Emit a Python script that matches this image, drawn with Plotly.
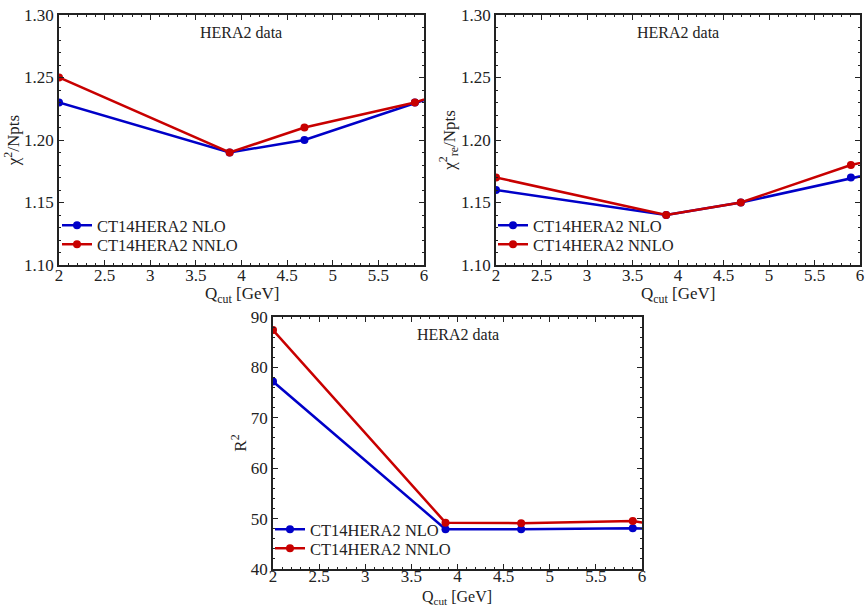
import plotly.graph_objects as go

# Q_cut values (GeV); last point lies beyond the plotted range (clipped, as in reference)
q_cut = [2.0, 3.87, 4.69, 5.9, 7.07]

chi2_nlo = [1.23, 1.19, 1.20, 1.23, 1.258]
chi2_nnlo = [1.25, 1.19, 1.21, 1.23, 1.258]

chi2re_nlo = [1.16, 1.14, 1.15, 1.17, 1.188]
chi2re_nnlo = [1.17, 1.14, 1.15, 1.18, 1.198]

r2_nlo = [77.2, 47.9, 47.9, 48.1, 47.2]
r2_nnlo = [87.4, 49.2, 49.1, 49.5, 46.3]

labels = ["CT14HERA2 NLO", "CT14HERA2 NNLO"]
colors = ["#0000C8", "#C80000"]

FONT = "Liberation Serif"
W, H = 865, 606

fig = go.Figure()

panels = [
    dict(xa="x", ya="y", xd=[59 / W, 424 / W], yd=[1 - 265 / H, 1 - 15 / H],
         data=[chi2_nlo, chi2_nnlo], yr=[1.10, 1.30], dt=0.05, mdt=0.01,
         tf=".2f", ytitle="χ<sup>2</sup>/Npts", legx=57, legy=[208, 227],
         xt=(242, 295), tso=-6, xts=17),
    dict(xa="x2", ya="y2", xd=[496 / W, 860 / W], yd=[1 - 265 / H, 1 - 15 / H],
         data=[chi2re_nlo, chi2re_nnlo], yr=[1.10, 1.30], dt=0.05, mdt=0.01,
         tf=".2f", ytitle="χ<sup>2</sup><sub>re</sub>/Npts", legx=493, legy=[208, 227],
         xt=(678, 295), tso=-6, xts=17),
    dict(xa="x3", ya="y3", xd=[273 / W, 642 / W], yd=[1 - 569 / H, 1 - 317 / H],
         data=[r2_nlo, r2_nnlo], yr=[40, 90], dt=10, mdt=2,
         tf="d", ytitle="R<sup>2</sup>", legx=270, legy=[512, 531],
         xt=(457, 597), tso=-9, xts=16),
]

leg_common = dict(bgcolor="rgba(0,0,0,0)", font=dict(family=FONT, size=16.5, color="#222"),
                  xanchor="left", yanchor="top", itemwidth=30)
legend_layout = {}
k = 0
for i, p in enumerate(panels):
    for s in range(2):
        k += 1
        lname = "legend" if k == 1 else "legend%d" % k
        legend_layout[lname] = dict(x=p["legx"] / W, y=1 - p["legy"][s] / H, **leg_common)
        fig.add_trace(go.Scatter(
            x=q_cut, y=p["data"][s], mode="lines+markers", name=labels[s],
            line=dict(color=colors[s], width=2.5),
            marker=dict(color=colors[s], size=8),
            xaxis=p["xa"], yaxis=p["ya"], legend=lname,
        ))
    sfx = "" if i == 0 else str(i + 1)
    axis_common = dict(showline=True, linecolor="#222", linewidth=1.5, mirror="allticks",
                       ticks="inside", ticklen=5, tickwidth=1.2, tickcolor="#222",
                       showgrid=False, zeroline=False, automargin=False,
                       tickfont=dict(family=FONT, size=17, color="#222"))
    fig.update_layout(**{
        "xaxis" + sfx: dict(domain=p["xd"], range=[2, 6], dtick=0.5, tick0=2,
                            ticklabelstandoff=p["tso"],
                            minor=dict(dtick=0.1, ticks="inside", ticklen=2.5, tickcolor="#222", showgrid=False),
                            anchor=p["ya"], **axis_common),
        "yaxis" + sfx: dict(domain=p["yd"], range=p["yr"], dtick=p["dt"], tick0=p["yr"][0],
                            tickformat=p["tf"],
                            minor=dict(dtick=p["mdt"], ticks="inside", ticklen=2.5, tickcolor="#222", showgrid=False),
                            title=dict(text=p["ytitle"], font=dict(family=FONT, size=17, color="#222"), standoff=0),
                            anchor=p["xa"], **axis_common),
    })
    fig.add_annotation(text="Q<sub>cut</sub> [GeV]", xref="paper", yref="paper",
                       x=p["xt"][0] / W, y=1 - p["xt"][1] / H, xanchor="center", yanchor="middle",
                       showarrow=False, font=dict(family=FONT, size=p["xts"], color="#222"))
    fig.add_annotation(text="HERA2 data", xref=p["xa"] + " domain", yref=p["ya"] + " domain",
                       x=0.5, y=0.93, xanchor="center", yanchor="middle",
                       showarrow=False, font=dict(family=FONT, size=16, color="#222"))

fig.update_layout(**legend_layout)
fig.update_layout(width=W, height=H, margin=dict(l=0, r=0, t=0, b=0, autoexpand=False),
                  paper_bgcolor="white", plot_bgcolor="white", showlegend=True,
                  font=dict(family=FONT))

fig.write_html("out.html", config={"displayModeBar": False},
               post_script="document.body.style.margin='0';document.body.style.overflow='hidden';")
